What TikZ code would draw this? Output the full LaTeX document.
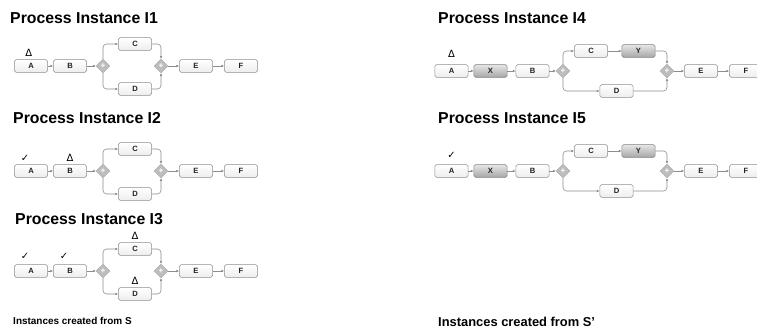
\documentclass[tikz,border=0pt]{standalone}
\usepackage{fontspec}
\setmainfont{Liberation Sans}
\newfontfamily\symfont{DejaVu Sans}
\usetikzlibrary{positioning, arrows.meta, shapes.geometric}
\definecolor{bpmnBorder}{HTML}{8E8E8E}
\definecolor{bpmnLine}{HTML}{8C8C8C}
\definecolor{bpmnGate}{HTML}{BDBDBD}
\definecolor{bpmnText}{HTML}{222222}

\tikzset{
  tache/.style={draw=bpmnBorder, line width=0.5pt, rounded corners=1.5pt,
    top color=white, bottom color=black!7, minimum width=1.0cm,
    minimum height=0.38cm, inner sep=0pt,
    font=\bfseries\fontsize{6.5}{7}\selectfont, text=bpmnText},
  ajout/.style={tache, draw=black!50, top color=black!10, bottom color=black!35},
  porte/.style={diamond, draw=black!35, fill=bpmnGate, minimum size=0.42cm,
    inner sep=0pt, font=\bfseries\fontsize{7}{7}\selectfont, text=white},
  fleche/.style={draw=bpmnLine, line width=0.5pt,
    -{Latex[length=2.2pt, width=2.2pt]}, rounded corners=3pt},
  titre/.style={font=\bfseries\fontsize{13.5}{16}\selectfont, anchor=west,
    inner sep=0pt},
  legende/.style={font=\bfseries\fontsize{8.5}{10}\selectfont, anchor=west,
    inner sep=0pt},
  marque/.style={font=\symfont\fontsize{8.5}{9}\selectfont, inner sep=0pt},
}

\begin{document}
\begin{tikzpicture}[x=0.03cm, y=-0.03cm]
  \useasboundingbox (0,0) rectangle (757,332);
  \clip (0,0) rectangle (757,332);

  % titres des instances
  \foreach \n/\x/\y in {1/10/18, 2/13/118, 3/15/219, 4/438/18, 5/438/118}
    \node[titre] (T\n) at (\x,\y) {Process Instance I\n};

  % instances créées à partir de S
  \foreach \n/\y in {1/66, 2/171, 3/271} {
    \node[tache] (A\n) at (31,\y) {A};
    \node[tache] (B\n) at (70,\y) {B};
    \node[porte] (G\n) at (103,\y) {+};
    \node[tache] (C\n) at (135,\y-22) {C};
    \node[tache] (D\n) at (135,\y+23) {D};
    \node[porte] (H\n) at (161,\y) {+};
    \node[tache] (E\n) at (196,\y) {E};
    \node[tache] (F\n) at (241,\y) {F};

    \draw[fleche] (A\n) -- (B\n);
    \draw[fleche] (B\n) -- (G\n);
    \draw[fleche] (G\n.north) |- (C\n);
    \draw[fleche] (G\n.south) |- (D\n);
    \draw[fleche] (C\n) -| (H\n.north);
    \draw[fleche] (D\n) -| (H\n.south);
    \draw[fleche] (H\n) -- (E\n);
    \draw[fleche] (E\n) -- (F\n);
  }

  % instances créées à partir de S'
  \foreach \n/\y in {4/71, 5/171} {
    \node[tache] (A\n) at (451.5,\y) {A};
    \node[ajout] (X\n) at (490.5,\y) {X};
    \node[tache] (B\n) at (532.5,\y) {B};
    \node[porte] (G\n) at (563,\y) {+};
    \node[tache] (C\n) at (591,\y-20) {C};
    \node[ajout] (Y\n) at (638.5,\y-20) {Y};
    \node[tache] (D\n) at (616.5,\y+20) {D};
    \node[porte] (H\n) at (667,\y) {+};
    \node[tache] (E\n) at (701,\y) {E};
    \node[tache] (F\n) at (746,\y) {F};

    \draw[fleche] (A\n) -- (X\n);
    \draw[fleche] (X\n) -- (B\n);
    \draw[fleche] (B\n) -- (G\n);
    \draw[fleche] (G\n.north) |- (C\n);
    \draw[fleche] (C\n) -- (Y\n);
    \draw[fleche] (G\n.south) |- (D\n);
    \draw[fleche] (Y\n) -| (H\n.north);
    \draw[fleche] (D\n) -| (H\n.south);
    \draw[fleche] (H\n) -- (E\n);
    \draw[fleche] (E\n) -- (F\n);
  }

  % états des activités
  \node[marque, above=2.5pt of A1, xshift=-2pt] (mA1) {Δ};
  \node[marque, above=2.5pt of A2, xshift=-5pt] (mA2) {✓};
  \node[marque, above=2.5pt of B2] (mB2) {Δ};
  \node[marque, above=4pt of A3, xshift=-5pt] (mA3) {✓};
  \node[marque, above=4pt of B3, xshift=-5pt] (mB3) {✓};
  \node[marque, above=2.5pt of C3] (mC3) {Δ};
  \node[marque, above=2.5pt of D3] (mD3) {Δ};
  \node[marque, above=6pt of A4] (mA4) {Δ};
  \node[marque, above=5pt of A5] (mA5) {✓};

  % légendes
  \node[legende] (L1) at (13,321) {Instances created from S};
  \node[legende, font=\bfseries\fontsize{11}{13}\selectfont] (L2) at (438,322)
    {Instances created from S’};
\end{tikzpicture}
\end{document}
